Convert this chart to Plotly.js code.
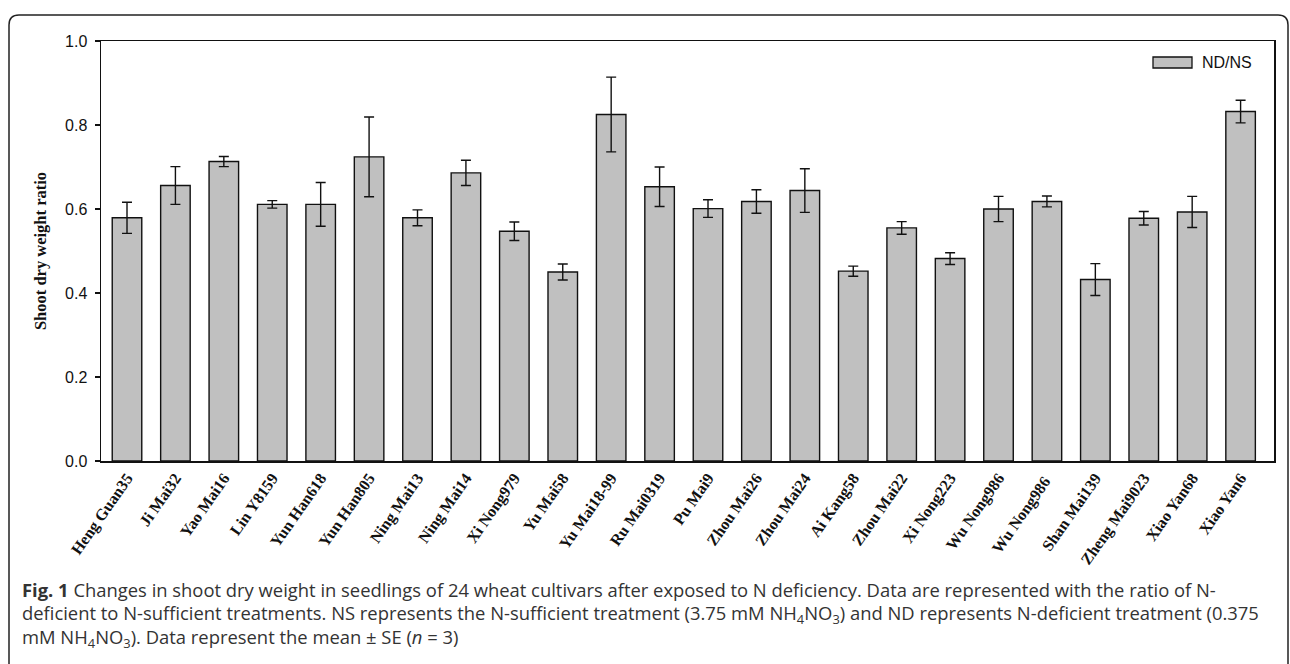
<!DOCTYPE html>
<html>
<head>
<meta charset="utf-8">
<script src="https://cdn.plot.ly/plotly-3.0.1.min.js"></script>
<style>
  html, body { margin: 0; padding: 0; background: #ffffff; }
  #chart { width: 1290px; height: 664px; }
</style>
</head>
<body>
<div id="chart"></div>
<script>
// ---- data ----
const cultivars = ["Heng Guan35", "Ji Mai32", "Yao Mai16", "Lin Y8159", "Yun Han618", "Yun Han805",
  "Ning Mai13", "Ning Mai14", "Xi Nong979", "Yu Mai58", "Yu Mai18-99", "Ru Mai0319",
  "Pu Mai9", "Zhou Mai26", "Zhou Mai24", "Ai Kang58", "Zhou Mai22", "Xi Nong223",
  "Wu Nong986", "Wu Nong986 ", "Shan Mai139", "Zheng Mai9023", "Xiao Yan68", "Xiao Yan6"];
const ratioNDNS = [0.579, 0.656, 0.713, 0.611, 0.611, 0.724, 0.579, 0.686, 0.547, 0.450, 0.825, 0.653,
  0.601, 0.618, 0.644, 0.452, 0.555, 0.482, 0.600, 0.618, 0.432, 0.578, 0.593, 0.832];
const seNDNS = [0.037, 0.045, 0.012, 0.009, 0.052, 0.095, 0.019, 0.030, 0.022, 0.019, 0.089, 0.047,
  0.021, 0.028, 0.052, 0.012, 0.015, 0.014, 0.030, 0.013, 0.038, 0.016, 0.037, 0.027];
const yTicks = [0, 0.2, 0.4, 0.6, 0.8, 1.0];
const yTickText = ["0.0", "0.2", "0.4", "0.6", "0.8", "1.0"];
const seriesName = "ND/NS";
const captionLines = [
  "<b>Fig. 1</b> Changes in shoot dry weight in seedlings of 24 wheat cultivars after exposed to N deficiency. Data are represented with the ratio of N-",
  "deficient to N-sufficient treatments. NS represents the N-sufficient treatment (3.75 mM NH<sub>4</sub>NO<sub>3</sub>) and ND represents N-deficient treatment (0.375",
  "mM NH<sub>4</sub>NO<sub>3</sub>). Data represent the mean ± SE (<i>n</i> = 3)"
];

// ---- geometry helpers (pixel -> paper) ----
const W = 1290, H = 664;
const M = { l: 101, r: 16, t: 41, b: 203 };
const PW = W - M.l - M.r, PH = H - M.t - M.b;
const px = x => (x - M.l) / PW;
const py = y => 1 - (y - M.t) / PH;

const trace = {
  type: "bar",
  x: cultivars,
  y: ratioNDNS,
  name: seriesName,
  width: 0.61,
  marker: { color: "#c0c0c0", line: { color: "#111111", width: 1.4 } },
  error_y: { type: "data", array: seNDNS, visible: true, color: "#111111", thickness: 1.4, width: 5 },
  showlegend: false,
  hoverinfo: "x+y"
};

// frame (rounded, open at bottom)
const fx0 = 9, fx1 = 1288, fy0 = 15, rad = 10;
const framePath =
  `M ${px(fx0)},${py(H + 5)} L ${px(fx0)},${py(fy0 + rad)} Q ${px(fx0)},${py(fy0)} ${px(fx0 + rad)},${py(fy0)} ` +
  `L ${px(fx1 - rad)},${py(fy0)} Q ${px(fx1)},${py(fy0)} ${px(fx1)},${py(fy0 + rad)} L ${px(fx1)},${py(H + 5)}`;

const shapes = [
  { type: "path", xref: "paper", yref: "paper", path: framePath, line: { color: "#222222", width: 1.5 }, layer: "above" },
  // legend swatch
  { type: "rect", xref: "paper", yref: "paper", x0: px(1153), x1: px(1192), y0: py(57), y1: py(68),
    fillcolor: "#c0c0c0", line: { color: "#111111", width: 1.3 } }
];

const captionY = [589, 614, 638];
const annotations = [
  { xref: "paper", yref: "paper", x: px(1200), y: py(62.5), xanchor: "left", yanchor: "middle",
    text: seriesName, showarrow: false, font: { family: "Liberation Sans, Arial, sans-serif", size: 16, color: "#111111" } }
].concat(captionLines.map((t, i) => ({
  xref: "paper", yref: "paper", x: px(20), y: py(captionY[i]), xanchor: "left", yanchor: "middle",
  text: t, showarrow: false, align: "left",
  font: { family: "Open Sans, Noto Sans, sans-serif", size: 18.4, color: "#333333" }
})));

const layout = {
  width: W, height: H,
  margin: { l: M.l, r: M.r, t: M.t, b: M.b, pad: 0 },
  paper_bgcolor: "#ffffff", plot_bgcolor: "#ffffff",
  showlegend: false,
  bargap: 0.39,
  xaxis: {
    type: "category",
    range: [-0.537, 23.69],
    showline: true, linecolor: "#111111", linewidth: 1.5, mirror: true,
    ticks: "", showgrid: false, zeroline: false,
    tickangle: -55,
    tickfont: { family: "Liberation Serif, Times New Roman, serif", size: 16, color: "#111111", weight: "bold" }
  },
  yaxis: {
    range: [0, 1.0],
    tickvals: yTicks, ticktext: yTickText,
    showline: true, linecolor: "#111111", linewidth: 1.5, mirror: true,
    ticks: "outside", ticklen: 5, tickwidth: 1.2, tickcolor: "#111111",
    showgrid: false, zeroline: false,
    ticklabelstandoff: 4,
    tickfont: { family: "Liberation Sans, Arial, sans-serif", size: 16, color: "#111111" },
    title: { text: "<b>Shoot dry weight ratio</b>", standoff: 14,
      font: { family: "Liberation Serif, Times New Roman, serif", size: 16.5, color: "#111111" } }
  },
  shapes: shapes,
  annotations: annotations
};

Plotly.newPlot("chart", [trace], layout, { displayModeBar: false, staticPlot: true });
</script>
</body>
</html>
